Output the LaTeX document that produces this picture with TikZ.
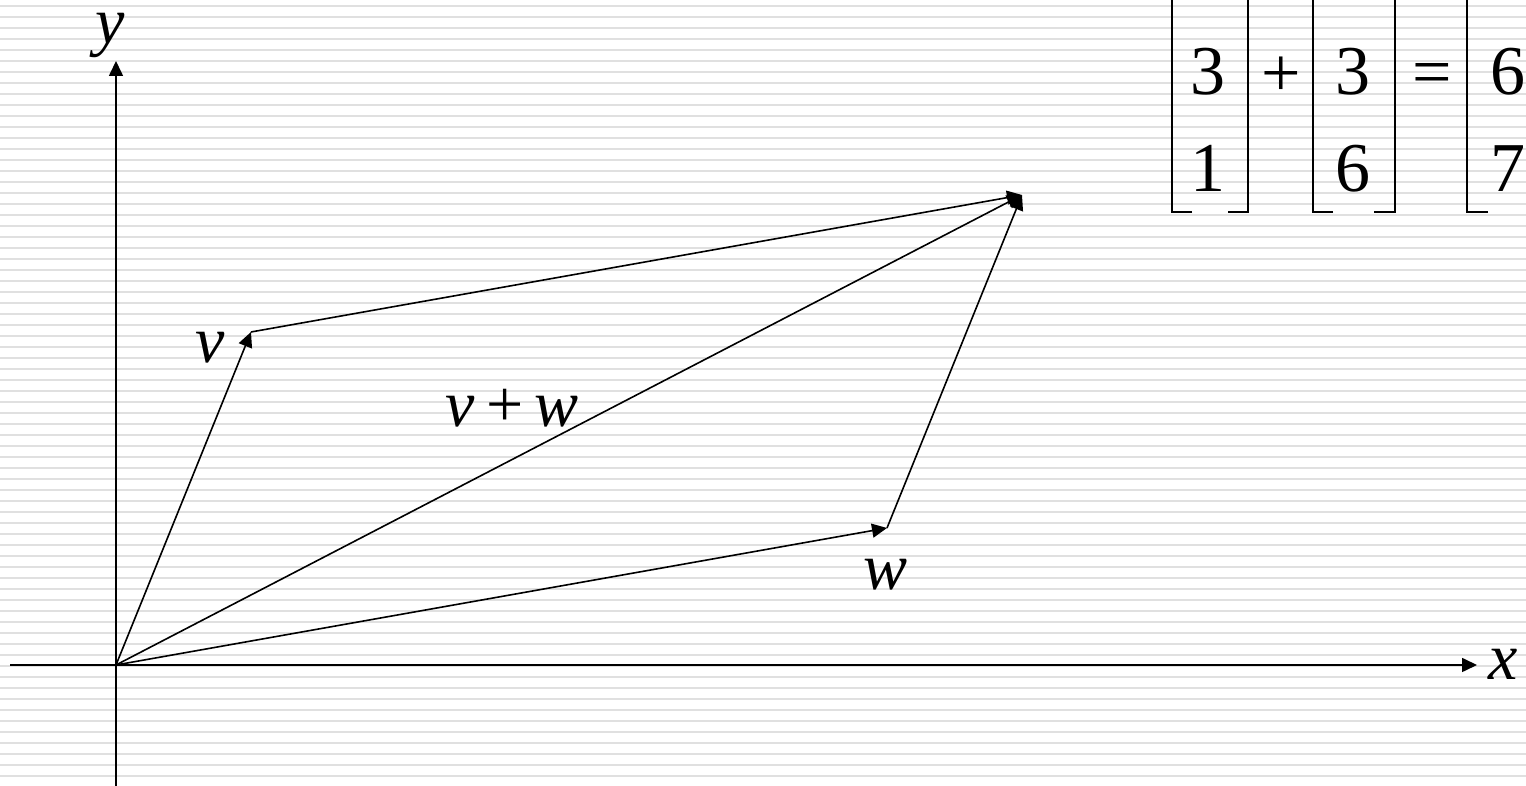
\documentclass[tikz,border=0pt]{standalone}
\usepackage{fontspec}
\setmainfont{Liberation Serif}
\usetikzlibrary{arrows.meta}
\begin{document}
\begin{tikzpicture}[
    x=1pt,y=1pt,
    rule/.style={draw=black!12,line width=2pt},
    vec/.style={->,line width=1.6pt},
    brk/.style={line width=2.4pt},
    lbl/.style={font=\fontsize{66}{80}\selectfont\itshape,anchor=base,inner sep=0pt,text height=32pt,text depth=15pt},
    num/.style={font=\fontsize{70}{84}\selectfont,anchor=base,inner sep=0pt},
    >={Triangle[length=15pt,width=14pt]}
]
\useasboundingbox (0,0) rectangle (1526,786);
\clip (0,0) rectangle (1526,786);
\foreach \k in {0,...,70}
  \draw[rule] (0,780.4-11*\k) -- (1526,780.4-11*\k);

\coordinate (o) at (116,121);
\coordinate (xl) at (10,121);
\coordinate (xr) at (1477,121);
\coordinate (yb) at (116,0);
\coordinate (yt) at (116,725);
\coordinate (v) at (251,454);
\coordinate (w) at (887,258);
\coordinate (vw) at (1022,591);

\draw[vec] (xl)--(xr);
\draw[vec] (yb)--(yt);
\draw[vec] (o)--(v);
\draw[vec] (o)--(w);
\draw[vec] (o)--(vw);
\draw[vec] (v)--(vw);
\draw[vec] (w)--(vw);

\node[lbl] (ylab) at (110,742) {y};
\node[lbl] (xlab) at (1503,106) {x};
\node[lbl] (vlab) at (210,423) {v};
\node[lbl] (wlab) at (886,196) {w};
\node[lbl] (vwlab) at (512,359) {v\,{\upshape +}\,w};

\draw[brk] (1192,574) -| (1172,800);
\draw[brk] (1228,574) -| (1248,800);
\draw[brk] (1333,574) -| (1313,800);
\draw[brk] (1374,574) -| (1395,800);
\draw[brk] (1488,574) -| (1467,800);

\node[num] (a1) at (1208,691) {3};
\node[num] (a2) at (1208,594) {1};
\node[num] (b1) at (1353,691) {3};
\node[num] (b2) at (1353,594) {6};
\node[num] (c1) at (1508,691) {6};
\node[num] (c2) at (1508,594) {7};
\node[num,anchor=center] (plus) at (1281,709) {+};
\node[num,anchor=center] (eq) at (1432,706) {=};
\end{tikzpicture}
\end{document}
